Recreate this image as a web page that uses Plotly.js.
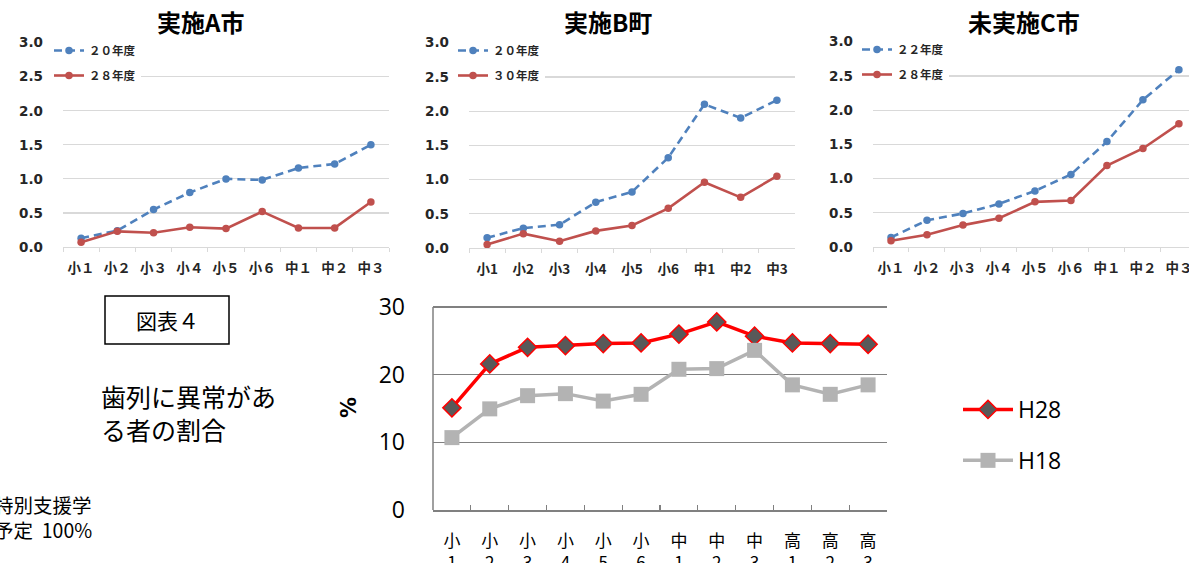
<!DOCTYPE html>
<html>
<head>
<meta charset="utf-8">
<script src="https://cdn.plot.ly/plotly-3.0.1.min.js"></script>
<style>html,body{margin:0;padding:0;background:#fff;}#chart{width:1189px;height:563px;}</style>
</head>
<body>
<div id="chart"></div>
<script>
// ---- data ----
const catsAC = ['小１','小２','小３','小４','小５','小６','中１','中２','中３'];
const catsB = ['小1','小2','小3','小4','小5','小6','中1','中2','中3'];
const catsBottom = ['小<br>1','小<br>2','小<br>3','小<br>4','小<br>5','小<br>6','中<br>1','中<br>2','中<br>3','高<br>1','高<br>2','高<br>3'];

const titleA = '実施A市';
const titleB = '実施B町';
const titleC = '未実施C市';

const nameA1 = '２０年度';
const nameA2 = '２８年度';
const nameB1 = '２０年度';
const nameB2 = '３０年度';
const nameC1 = '２２年度';
const nameC2 = '２８年度';

const valsA1 = [0.13, 0.24, 0.55, 0.80, 1.00, 0.985, 1.16, 1.22, 1.50];
const valsA2 = [0.07, 0.23, 0.21, 0.29, 0.27, 0.52, 0.28, 0.28, 0.66];
const valsB1 = [0.15, 0.29, 0.34, 0.67, 0.82, 1.32, 2.10, 1.90, 2.16];
const valsB2 = [0.05, 0.21, 0.10, 0.25, 0.33, 0.58, 0.96, 0.74, 1.05];
const valsC1 = [0.14, 0.39, 0.49, 0.63, 0.82, 1.06, 1.54, 2.15, 2.59];
const valsC2 = [0.09, 0.18, 0.32, 0.42, 0.66, 0.68, 1.19, 1.44, 1.80];

const nameH28 = 'H28';
const nameH18 = 'H18';
const valsH28 = [15.1, 21.6, 24.05, 24.3, 24.6, 24.7, 26.0, 27.8, 25.7, 24.7, 24.6, 24.5];
const valsH18 = [10.7, 14.95, 16.9, 17.2, 16.1, 17.1, 20.8, 20.9, 23.6, 18.5, 17.1, 18.5];

// ---- layout helpers ----
const W = 1189, H = 563;
const px = x => x / W;
const py = y => 1 - y / H;

const BLUE = '#4f81bd', RED = '#c0504d';
const jpBold = 'Noto Sans CJK JP';

function topTraces(cats, v1, v2, n1, n2, xa, ya, lg) {
  return [
    {x: cats, y: v1, name: n1, type: 'scatter', mode: 'lines+markers', xaxis: xa, yaxis: ya,
     legend: lg, legendgroup: lg + 'a',
     line: {color: BLUE, width: 2.6, dash: '8px,5px'}, marker: {color: BLUE, size: 7.5, symbol: 'circle'}},
    {x: cats, y: v2, name: n2, type: 'scatter', mode: 'lines+markers', xaxis: xa, yaxis: ya,
     legend: lg, legendgroup: lg + 'b',
     line: {color: RED, width: 2.6}, marker: {color: RED, size: 7.5, symbol: 'circle'}}
  ];
}

const data = [].concat(
  topTraces(catsAC, valsA1, valsA2, nameA1, nameA2, 'x', 'y', 'legend'),
  topTraces(catsB, valsB1, valsB2, nameB1, nameB2, 'x2', 'y2', 'legend2'),
  topTraces(catsAC, valsC1, valsC2, nameC1, nameC2, 'x3', 'y3', 'legend3'),
  [
    {x: catsBottom, y: valsH28, name: nameH28, type: 'scatter', mode: 'lines+markers', xaxis: 'x4', yaxis: 'y4',
     legend: 'legend4', legendgroup: 'h28',
     line: {color: '#ff0000', width: 3.5},
     marker: {symbol: 'diamond', size: 14, color: '#595959', line: {color: '#ff0000', width: 1.5}}},
    {x: catsBottom, y: valsH18, name: nameH18, type: 'scatter', mode: 'lines+markers', xaxis: 'x4', yaxis: 'y4',
     legend: 'legend4', legendgroup: 'h18',
     line: {color: '#b3b3b3', width: 3.5},
     marker: {symbol: 'square', size: 15, color: '#b3b3b3'}}
  ]
);

function topX(dom, anchor, rng) {
  return {domain: dom, anchor: anchor, type: 'category', range: rng,
    showgrid: false, showline: true, linecolor: '#d9d9d9', linewidth: 1.2,
    ticks: 'outside', tickson: 'boundaries', ticklen: 4, tickcolor: '#d9d9d9',
    ticklabelstandoff: 9, tickangle: 0, automargin: false,
    tickfont: {family: jpBold, size: 13.5, color: '#262626', weight: 'bold'}};
}
function topY(dom, anchor) {
  return {domain: dom, anchor: anchor, range: [0, 3.01], tickvals: [0, 0.5, 1, 1.5, 2, 2.5, 3], tickformat: '.1f',
    showgrid: true, gridcolor: '#d9d9d9', gridwidth: 1.2, zeroline: false, showline: false,
    ticks: '', ticklabelstandoff: 19, automargin: false,
    tickfont: {family: 'DejaVu Sans', size: 13.5, color: '#262626', weight: 'bold'}};
}

const legTop = (x, y) => ({x: px(x), y: py(y), xanchor: 'left', yanchor: 'top',
  bgcolor: 'rgba(255,255,255,1)', borderwidth: 0, tracegroupgap: 6, itemwidth: 30,
  font: {family: jpBold, size: 11.5, color: '#262626', weight: 'bold'}});

const ann = (text, x, y, font, extra) => Object.assign({text: text, x: px(x), y: py(y), xref: 'paper', yref: 'paper',
  xanchor: 'center', yanchor: 'middle', showarrow: false, font: font}, extra || {});

const layout = {
  width: W, height: H,
  margin: {l: 0, r: 0, t: 0, b: 0, pad: 0},
  paper_bgcolor: '#ffffff', plot_bgcolor: 'rgba(0,0,0,0)',
  showlegend: true,
  xaxis: topX([px(63), px(389)], 'y', [-0.5, 8.5]),
  yaxis: topY([py(247), py(42)], 'x'),
  xaxis2: topX([px(469), px(795)], 'y2', [-0.5, 8.5]),
  yaxis2: topY([py(248), py(42)], 'x2'),
  xaxis3: topX([px(873), px(1189)], 'y3', [-0.5, 8.28]),
  yaxis3: topY([py(247), py(41)], 'x3'),
  xaxis4: {domain: [px(433), px(887)], anchor: 'y4', type: 'category', range: [-0.5, 11.5],
    showgrid: false, showline: true, linecolor: '#808080', linewidth: 1.5,
    ticks: 'inside', tickson: 'boundaries', ticklen: 5, tickcolor: '#808080', tickwidth: 1.3,
    ticklabelstandoff: 15, tickangle: 0, automargin: false,
    tickfont: {family: 'Noto Sans CJK JP', size: 17, color: '#000'}},
  yaxis4: {domain: [py(510), py(303)], anchor: 'x4', range: [0, 30.6], tickvals: [0, 10, 20, 30],
    showgrid: true, gridcolor: '#808080', gridwidth: 1.4, zeroline: false,
    showline: false, ticks: '', automargin: false,
    ticklabelstandoff: 27,
    tickfont: {family: 'Open Sans', size: 23, color: '#000'}},
  legend: legTop(49, 36),
  legend2: legTop(453, 36),
  legend3: legTop(857, 35),
  legend4: {x: px(958), y: py(388), xanchor: 'left', yanchor: 'top', bgcolor: 'rgba(255,255,255,0)',
    borderwidth: 0, tracegroupgap: 18, itemwidth: 50,
    font: {family: 'Open Sans', size: 23, color: '#000'}},
  shapes: [
    {type: 'rect', xref: 'paper', yref: 'paper', x0: px(105), x1: px(229), y0: py(344), y1: py(296),
     line: {color: '#000', width: 1.5}, fillcolor: 'rgba(0,0,0,0)'},
    // left axis line of the bottom chart (from 0 to 30 only)
    {type: 'line', xref: 'x4 domain', yref: 'y4', x0: 0, x1: 0, y0: 0, y1: 30,
     line: {color: '#808080', width: 1.5}}
  ],
  annotations: [
    ann(titleA, 201, 21, {family: jpBold, size: 24, color: '#000', weight: 'bold'}),
    ann(titleB, 608, 21, {family: jpBold, size: 24, color: '#000', weight: 'bold'}),
    ann(titleC, 1024, 21, {family: jpBold, size: 24, color: '#000', weight: 'bold'}),
    ann('図表４', 167, 320, {family: 'Noto Sans CJK JP', size: 21, color: '#000'}),
    ann('歯列に異常があ<br>る者の割合', 99, 412, {family: 'Noto Sans CJK JP', size: 25, color: '#000'},
        {xanchor: 'left', align: 'left'}),
    ann('特別支援学<br>予定\u00a0\u00a0100%', -8, 517, {family: 'Noto Sans CJK JP', size: 19.5, color: '#000'},
        {xanchor: 'left', align: 'left'}),
    ann('%', 349, 408, {family: 'DejaVu Sans', size: 21, color: '#000', weight: 'bold'}, {textangle: -90})
  ]
};

Plotly.newPlot('chart', data, layout, {displayModeBar: false, staticPlot: true});
</script>
</body>
</html>
